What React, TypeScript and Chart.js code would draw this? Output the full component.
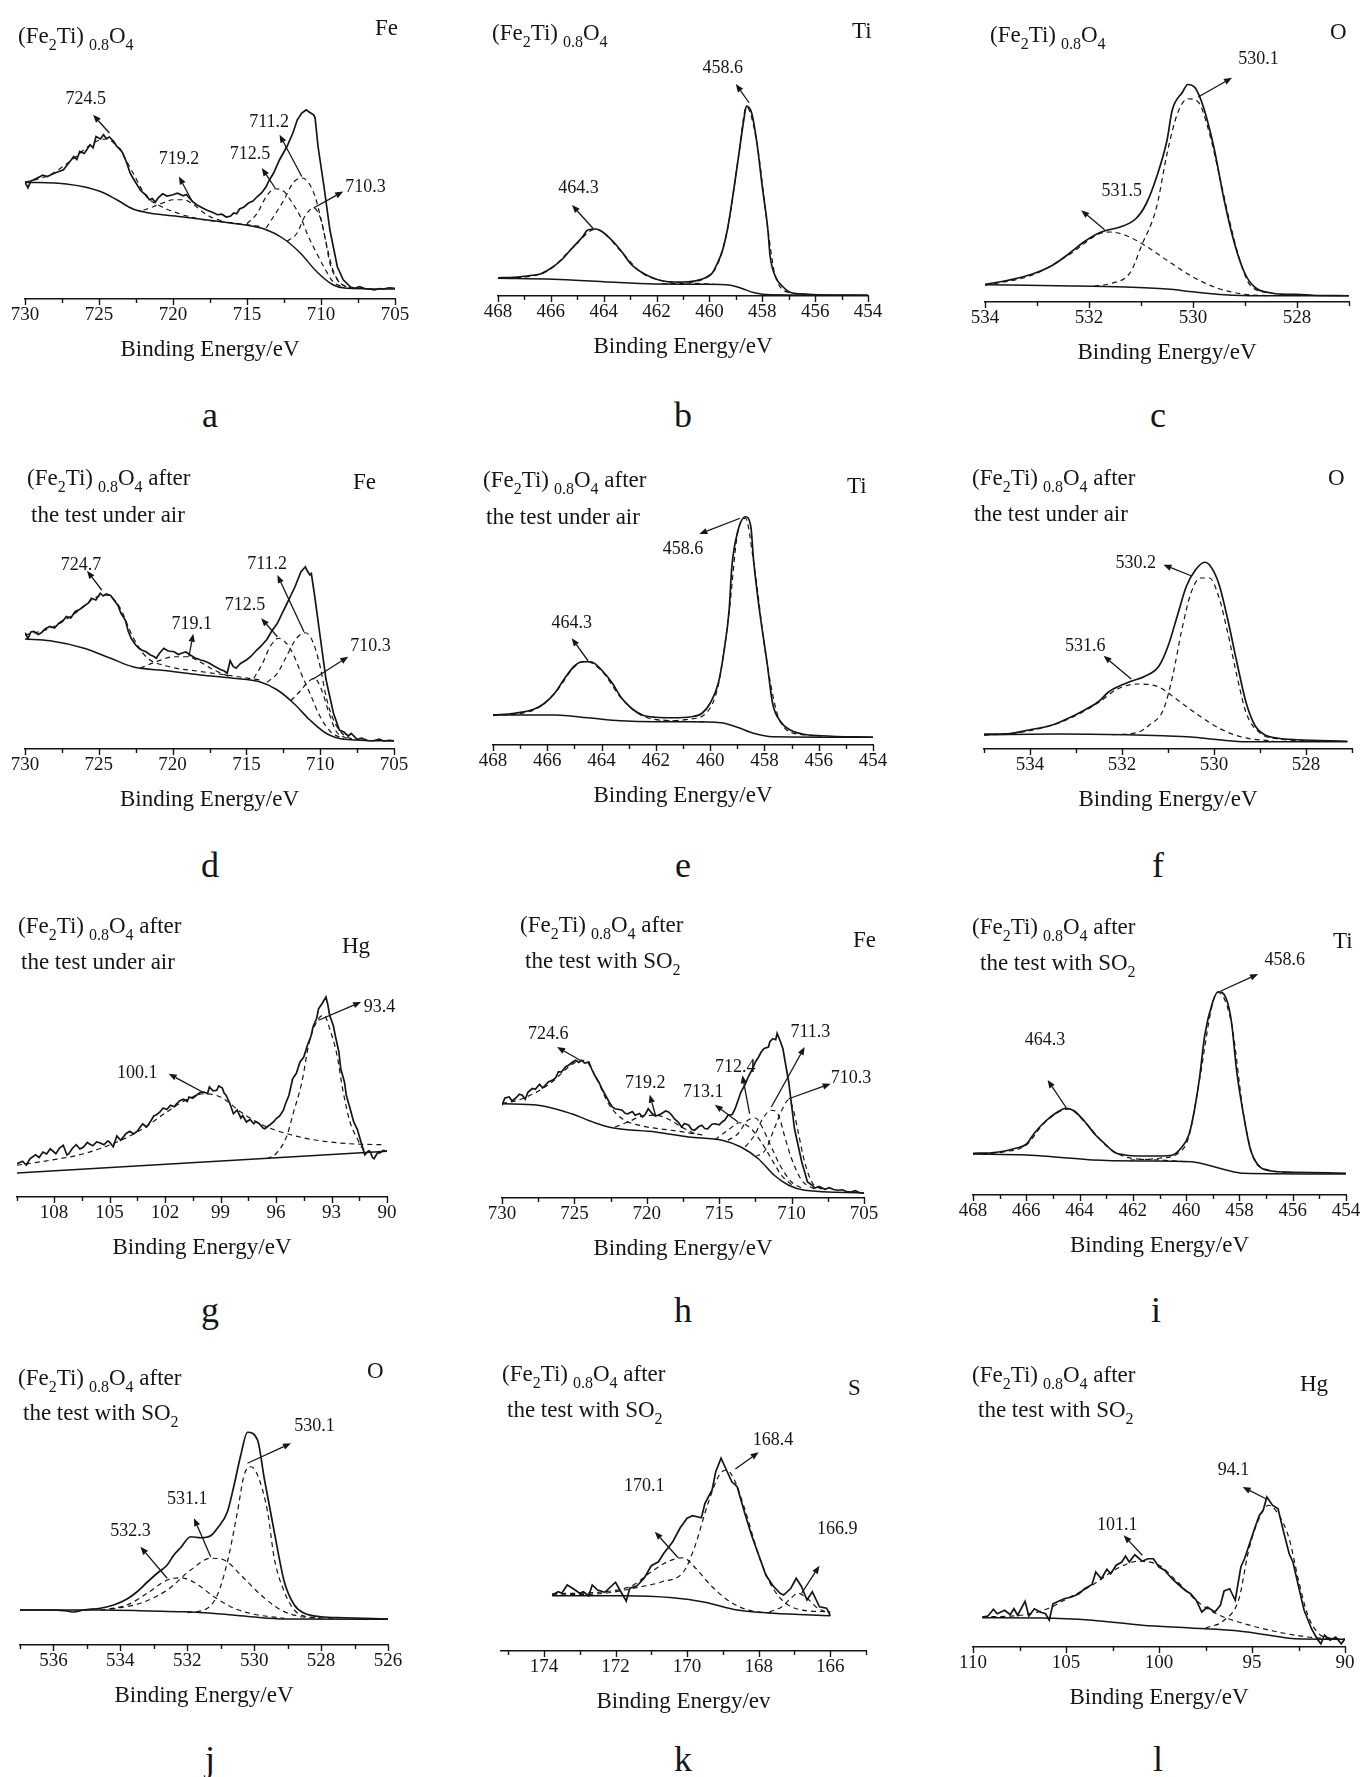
import React, { useEffect, useRef } from 'react';
import { Chart, registerables } from 'chart.js';

Chart.register(...registerables);

const FONT = '"Liberation Serif", "Times New Roman", Times, serif';
const INK = '#151515';

// ---------------- tick labels ----------------
const feMajor = [730, 725, 720, 715, 710, 705];
const feMinor = [727.5, 722.5, 717.5, 712.5, 707.5];
const tiMajor = [468, 466, 464, 462, 460, 458, 456, 454];
const tiMinor = [467, 465, 463, 461, 459, 457, 455];
const oMajor = [534, 532, 530, 528];
const cMinor = [533, 531, 529, 527];
const fMinor = [535, 533, 531, 529, 527];
const gMajor = [108, 105, 102, 99, 96, 93, 90];
const gMinor = [110, 106.5, 103.5, 100.5, 97.5, 94.5, 91.5];
const jMajor = [536, 534, 532, 530, 528, 526];
const jMinor = [537, 535, 533, 531, 529, 527];
const kMajor = [174, 172, 170, 168, 166];
const kMinor = [175, 173, 171, 169, 167, 165];
const lMajor = [110, 105, 100, 95, 90];
const lMinor = [107.5, 102.5, 97.5, 92.5];

// ---------------- panel a : Fe 2p, fresh ----------------
const aEnv = [[730,46.7],[729.8,44.5],[729.6,47.2],[729.4,47.7],[729.1,48.6],[728.8,49.5],[728.5,49],[728.1,50.1],[727.8,50.8],[727.4,51.7],[727.1,54],[726.7,57],[726.5,55.8],[726.3,59],[726,58.2],[725.6,61.7],[725.4,60.5],[725.2,65],[724.9,64],[724.7,65.7],[724.5,64.2],[724.3,64.8],[724,63],[723.8,61],[723.6,60.2],[723.4,58.4],[723.1,54],[722.9,50.4],[722.7,48.3],[722.5,46.4],[722.2,43.5],[722,42.4],[721.8,41.5],[721.6,39.7],[721.4,40.2],[721.2,38.7],[721,40.5],[720.7,42.1],[720.4,41.2],[720,41.7],[719.7,42.3],[719.3,41.3],[719.1,41.8],[718.9,40.4],[718.6,38.6],[718.4,37.7],[718,36.4],[717.7,35.5],[717.3,34.6],[717,33.7],[716.7,33.9],[716.4,32.8],[716.1,33.2],[715.9,34.4],[715.7,34.1],[715.5,36],[715.2,36.8],[714.9,38.4],[714.6,39.2],[714.3,41],[714,42.5],[713.7,45],[713.5,47.5],[713.2,50.4],[712.8,55.7],[712.3,61],[711.9,66.4],[711.6,71.7],[711.3,74.4],[711.1,75.2],[711,75.7],[710.8,74.8],[710.5,73.7],[710.4,72.5],[710.2,61],[709.8,45],[709.4,27.7],[708.9,13],[708.5,7.7],[708,4.8],[707.7,4.3],[707.4,4.9],[707,4.1],[706.7,4],[706.4,3.6],[706,4.2],[705.8,4],[705.4,4.5],[705,4.3]];
const aBg = [[730,46.7],[727.2,46],[724.9,43],[723.8,39.7],[722.7,36],[721.6,34.4],[719.3,32.8],[717,31.1],[714.8,29.3],[713.7,27.7],[712.6,24.4],[711.4,18.4],[710.3,11],[709.2,5.7],[708.3,4.3],[705,4]];
const aP7245 = [[730,46.7],[728.3,49.7],[726.7,56.3],[725.4,62.4],[724.5,64],[723.6,59.7],[722.7,50.4],[721.8,41],[720.9,37.3],[719.5,34],[718.2,32],[715.9,30.4],[714.1,29]];
const aP7192 = [[722,35.5],[721.3,37],[720.7,38.4],[720,39.7],[719.3,39.7],[718.6,37.7],[717.9,34.4],[717.3,32.4],[716.6,31.1]];
const aP7125 = [[715,30.1],[714.3,34.4],[713.7,41],[713.1,44.1],[712.5,43],[712,39],[711.4,33],[710.9,25.7],[710.3,18.4],[709.7,11.7],[709.2,7],[708.5,4.8]];
const aP7112 = [[713.7,28.4],[712.5,39.7],[711.9,46.4],[711.3,48.4],[710.9,47],[710.4,41],[710.1,34.4],[709.7,23.7],[709.4,14.4],[708.9,7.7],[708.3,4.8]];
const aP7103 = [[712.3,23],[711.6,26.5],[711.1,33],[710.5,36.4],[710,31.7],[709.6,21],[709.2,11.7],[708.7,6.4],[708,4.4]];
const aNotes = [
  { t: '724.5', x: 725.9, y: 80, tx: 724.3, ty: 66.4, hx: 725.4, hy: 73.7 },
  { t: '719.2', x: 719.6, y: 56, tx: 718.7, ty: 39, hx: 719.6, hy: 49 },
  { t: '712.5', x: 714.8, y: 58, tx: 713.1, ty: 44.4, hx: 714.0, hy: 52.4 },
  { t: '711.2', x: 713.5, y: 70.7, tx: 711.3, ty: 49, hx: 712.8, hy: 65.7 },
  { t: '710.3', x: 707.0, y: 44.8, tx: 710.5, ty: 36.4, hx: 708.5, hy: 43 },
];

// ---------------- panel b : Ti 2p, fresh ----------------
const bEnv = [[468,7.3],[467.4,7.5],[466.7,8.3],[466.4,8.8],[466,11.1],[465.6,14.4],[465.2,19.1],[464.8,23.7],[464.6,26.4],[464.3,26.8],[464.1,26],[463.7,22.4],[463.3,17.5],[463,13.1],[462.6,9.7],[462.2,7.5],[461.8,6.1],[461.3,5.6],[460.8,5.7],[460.3,6.7],[459.9,9.1],[459.7,13.1],[459.5,18.4],[459.3,27.7],[459.1,41],[458.9,55.7],[458.7,70.4],[458.6,76],[458.4,73.1],[458.2,61],[458,43.7],[457.8,27.7],[457.7,15.7],[457.5,7.7],[457.2,3.5],[456.9,1.3],[456.4,0.8],[455.8,0.5],[454,0.3]];
const bBg = [[468,7.1],[465.9,6.7],[464,5.7],[462.1,4.8],[460.2,4.7],[459.2,4.3],[458.8,3.1],[458.3,1.3],[457.7,0.5],[454,0.3]];
const bP4643 = [[468,7.1],[466.7,8],[466,10.9],[465.2,19],[464.3,26.7],[463.3,17.3],[462.6,9.5],[461.8,6.1],[460.8,5.2],[459.8,4.7]];
const bP4586 = [[461.8,4.9],[460.8,5.3],[460.1,7.7],[459.7,12.4],[459.3,27.5],[458.9,55.7],[458.6,75.7],[458.2,61],[457.8,27.7],[457.5,7.7],[456.9,1.3],[455.8,0.5]];
const bNotes = [
  { t: '464.3', x: 464.95, y: 43, tx: 464.4, ty: 27, hx: 465.2, hy: 36.4 },
  { t: '458.6', x: 459.5, y: 91, tx: 458.5, ty: 77.3, hx: 459.0, hy: 84.8 },
];

// ---------------- panel c : O 1s, fresh ----------------
const cEnv = [[534,7.1],[533.55,8.7],[533.1,11.1],[532.7,14.7],[532.4,19.1],[532.1,24],[531.8,27.7],[531.66,28.7],[531.4,30],[531.1,33.3],[530.9,39.3],[530.7,50],[530.5,64.7],[530.4,76.7],[530.2,84],[530.1,87],[529.96,85.7],[529.8,78],[529.6,62],[529.4,40.7],[529.2,23.3],[529,11.3],[528.8,5.7],[528.5,3.6],[528.2,3.1],[528,3.1],[527.7,2.7],[527,2.5]];
const cBg = [[534,6.9],[532.6,6.5],[531.3,6],[530.5,5.2],[530,4.1],[529.4,2.9],[528.7,2.5],[527,2.5]];
const cP5315 = [[534,6.7],[533.1,10.7],[532.4,18.7],[531.8,27.3],[531.6,28],[531.3,26.7],[530.9,22.3],[530.5,16.7],[530,10],[529.5,5.3],[529,3.1],[528.5,2.5]];
const cP5301 = [[531.9,6.4],[531.6,7.3],[531.2,12],[531,22],[530.7,38],[530.5,59.3],[530.3,75.3],[530.1,81.3],[529.9,80],[529.7,68.7],[529.5,51.3],[529.3,32.7],[529.1,16.7],[528.9,6.7],[528.5,3.6],[528.1,2.8]];
const cNotes = [
  { t: '531.5', x: 531.37, y: 44.4, tx: 531.7, ty: 28.9, hx: 532.15, hy: 36.7 },
  { t: '530.1', x: 528.74, y: 96.9, tx: 529.9, ty: 82, hx: 529.25, hy: 89.7 },
];

// ---------------- panel d : Fe 2p, after test under air ----------------
const dEnv = [[730,46.5],[729.8,44.2],[729.6,46.8],[729.4,47],[729.1,45.8],[728.9,46.5],[728.6,48.2],[728.3,49],[728,48.4],[727.7,50.3],[727.4,51.5],[727.2,53],[726.9,52.4],[726.6,55],[726.3,55.8],[726,57.2],[725.7,58.4],[725.5,60.3],[725.2,59.6],[724.9,62.3],[724.7,61.2],[724.5,62],[724.2,61.4],[723.9,59],[723.7,57.4],[723.5,54.3],[723.2,51.5],[723,47],[722.8,44.2],[722.5,41.6],[722.3,40.4],[722.1,39.6],[721.8,38.9],[721.5,37.6],[721.3,37.1],[721.1,36.3],[720.9,38.2],[720.6,40.3],[720.3,39.2],[719.9,38.9],[719.6,37.8],[719.4,38.3],[719.1,38.8],[718.8,37.6],[718.5,36.5],[718.1,35.6],[717.8,35.1],[717.5,34.3],[717.2,33.2],[716.8,31.9],[716.5,31.2],[716.3,30.3],[716.1,35.3],[715.9,33],[715.7,32.3],[715.4,34.2],[715,35.6],[714.7,37],[714.3,39.6],[714,41.2],[713.6,43.9],[713.3,47],[712.9,50.3],[712.6,54],[712.3,57.6],[712,61.3],[711.7,65],[711.5,68],[711.3,70.9],[711,72.9],[710.9,71.5],[710.7,69.6],[710.6,70.2],[710.4,62.3],[710,44.9],[709.6,27.6],[709.1,14.3],[708.7,7.6],[708.4,6.8],[708.1,5.2],[707.9,6.2],[707.5,3.9],[707.2,4.3],[706.8,3.4],[706.4,3.3],[706,3.9],[705.7,3.2],[705.3,3.5],[705,3.3]];
const dBg = [[730,44],[728.3,43.3],[726,40.3],[724.2,36.3],[722.7,32.9],[720.4,31.3],[718.1,29.6],[715.9,28.3],[714.1,26.9],[712.9,23.6],[711.8,18.3],[710.7,11.6],[709.6,6.3],[708.4,3.9],[705,3.2]];
const dP7247 = [[730,45.6],[728.3,48.3],[726.6,54.3],[725.1,61],[724.5,61.6],[723.6,56.9],[722.7,44.9],[721.8,36.9],[720.4,33.2],[718.1,31],[715.9,29.2],[714.1,27.6]];
const dP7191 = [[722.2,32.3],[721.1,34.9],[719.9,36.9],[719,36.9],[718.1,34.7],[717.2,31.6],[716.1,28.9]];
const dP7125 = [[714.5,28.3],[713.9,34.3],[713.4,40.9],[712.8,44.3],[712.3,42.3],[711.8,37.6],[711.3,30.3],[710.7,22.3],[710,12.9],[709.3,6.9],[708.4,4.1]];
const dP7112 = [[713.6,26.7],[712.9,30.3],[712.3,36.9],[711.6,44.3],[711,46.5],[710.5,42.9],[710,32.9],[709.6,20.9],[709.1,11.6],[708.4,5.6],[707.8,3.9]];
const dP7103 = [[712,19.3],[711.4,22.9],[710.8,26.9],[710.4,28.3],[709.9,23.6],[709.4,14.3],[708.9,6.9],[708.2,4.3]];
const dNotes = [
  { t: '724.7', x: 726.2, y: 73.6, tx: 724.8, ty: 63.6, hx: 725.8, hy: 71.3 },
  { t: '719.1', x: 718.7, y: 50, tx: 718.9, ty: 36.9, hx: 718.6, hy: 46.1 },
  { t: '712.5', x: 715.1, y: 57.6, tx: 712.9, ty: 44.9, hx: 714.0, hy: 52.3 },
  { t: '711.2', x: 713.6, y: 74, tx: 711.1, ty: 46.9, hx: 712.9, hy: 69.6 },
  { t: '710.3', x: 706.6, y: 40.9, tx: 710.5, ty: 27.9, hx: 708.1, hy: 36.9 },
];

// ---------------- panel e : Ti 2p, after test under air ----------------
const eEnv = [[468,12],[467.2,12.7],[466.5,14.3],[466.1,16.7],[465.7,21.1],[465.4,26],[465,31.6],[464.7,33.3],[464.4,33.3],[464,30],[463.6,24.7],[463.3,19.3],[462.9,14.7],[462.5,12],[462,11.1],[461.4,10.9],[460.7,11.3],[460.3,12.7],[460,16.7],[459.7,24.7],[459.5,36.7],[459.3,54],[459.2,71.3],[459,84.7],[458.7,91.3],[458.5,87.3],[458.4,74],[458.2,55.3],[457.9,32.7],[457.7,16.7],[457.4,9.3],[457.1,6.3],[456.6,4.4],[455.9,3.7],[454,3.1]];
const eBg = [[468,12],[465.7,12],[464.5,10.9],[463.3,9.7],[462,9.3],[460.8,9.3],[459.6,8.9],[459,7.1],[458.4,4.7],[457.7,3.3],[454,3.1]];
const eP4643 = [[468,11.7],[466.5,14],[465.7,21],[465,31.3],[464.6,33.5],[464,29.7],[463.3,19.1],[462.5,11.7],[461.4,9.7],[460.2,9.3]];
const eP4586 = [[462,9.5],[460.8,10.3],[460.1,13.3],[459.7,24],[459.3,53.3],[459,84],[458.7,90.7],[458.4,73.3],[457.9,32.4],[457.4,8.9],[456.6,4.1],[455.9,3.6]];
const eNotes = [
  { t: '464.3', x: 465.1, y: 48.7, tx: 464.5, ty: 33.7, hx: 465.1, hy: 42.7 },
  { t: '458.6', x: 461.0, y: 78.3, tx: 458.9, ty: 90.7, hx: 460.4, hy: 84.4 },
];

// ---------------- panel f : O 1s, after test under air ----------------
const fEnv = [[535,6],[534.5,6.1],[534,7.7],[533.5,9.7],[533.2,12],[532.8,15.7],[532.5,19.1],[532.3,22.7],[532.1,24.8],[531.8,27.1],[531.5,29.1],[531.2,33.1],[531,41.1],[530.8,53.1],[530.6,65.1],[530.4,71.7],[530.2,74.7],[530.1,73.7],[529.9,66.4],[529.7,51.7],[529.5,34.4],[529.3,18.4],[529.1,9.1],[528.9,5.7],[528.6,4.3],[528.2,3.7],[527.1,3.1]];
const fBg = [[535,5.7],[533.4,6],[531.9,5.7],[531.1,5.3],[530.5,4.8],[529.9,3.7],[529.3,2.9],[528.7,2.9],[527.1,2.9]];
const fP5316 = [[535,5.5],[534,7.3],[533.2,11.7],[532.5,18.7],[532.1,24],[531.65,26],[531.2,24.8],[530.8,19.7],[530.35,13.7],[529.9,8.4],[529.4,4.8],[528.7,3.1]];
const fP5302 = [[532.2,5.7],[531.65,6.7],[531.4,9.7],[531.1,15.7],[530.9,29.1],[530.7,47.7],[530.5,62.4],[530.3,68.4],[530.1,68.4],[529.9,61.1],[529.7,46.4],[529.5,29.1],[529.3,14.4],[529,6.4],[528.6,4],[528,3.3]];
const fNotes = [
  { t: '530.2', x: 531.7, y: 74.4, tx: 530.5, ty: 69.3, hx: 531.1, hy: 73.7 },
  { t: '531.6', x: 532.8, y: 41.1, tx: 531.8, ty: 28, hx: 532.4, hy: 37.3 },
];

// ---------------- panel g : Hg 4f, after test under air ----------------
const gEnv = [[110,13.3],[109.7,14.3],[109.5,12.8],[109.3,15.3],[109,16.9],[108.8,15.8],[108.6,18],[108.4,17.2],[108.2,19.3],[107.9,17.3],[107.7,19.6],[107.5,20.7],[107.3,16.8],[107.2,17.3],[107,19.5],[106.8,20.9],[106.6,19.2],[106.4,20],[106.2,21.8],[106.1,21.3],[105.9,20.5],[105.7,22],[105.5,21.6],[105.3,20.9],[105.1,22.4],[105,22],[104.8,20.1],[104.6,24.4],[104.4,22.7],[104.3,23.6],[104.1,25.4],[103.9,26.3],[103.7,25.2],[103.5,26.3],[103.3,28.4],[103.2,29.2],[103,28],[102.8,30],[102.6,32.5],[102.5,32.7],[102.3,33.8],[102.1,35.6],[101.9,35],[101.7,36.7],[101.5,36.1],[101.4,37.1],[101.2,38.5],[101,39.1],[100.8,38.2],[100.7,40],[100.5,39.5],[100.3,40.7],[100.1,41.8],[99.9,42],[99.7,41.4],[99.6,44],[99.4,42.5],[99.2,42.7],[99.1,44.4],[98.9,43.6],[98.8,41.5],[98.7,40.7],[98.5,37.5],[98.3,33.3],[98.1,34.8],[97.9,31.6],[97.8,32.6],[97.6,30],[97.4,31],[97.2,29.3],[97.1,30.2],[96.9,29.3],[96.7,27.6],[96.6,27.3],[96.4,28.5],[96.3,29],[96.1,30.3],[96,31.3],[95.8,32.4],[95.6,34.7],[95.5,37],[95.3,40.7],[95.1,47.3],[94.9,49.5],[94.7,54],[94.5,56],[94.3,60.7],[94.1,64.5],[94,68],[93.8,71.5],[93.7,75.3],[93.5,77.5],[93.3,80],[93.2,77],[93.1,72.7],[92.9,68.5],[92.8,64.7],[92.6,58],[92.5,51.3],[92.3,46],[92.2,40.7],[92,35.5],[91.8,30],[91.6,27],[91.5,24.4],[91.3,19.3],[91.2,16.9],[91,18.5],[90.9,18],[90.8,16],[90.7,15.3],[90.5,17.8],[90.4,17.6],[90.2,18.6],[90,18.3]];
const gBg = [[110,9.6],[90,18.3]];
const gP1001 = [[110,12.7],[108.2,14.7],[106.4,17.3],[104.6,22],[103.2,27.3],[101.9,34],[100.8,39.1],[99.9,41.3],[99,40],[97.9,34],[96.7,28.7],[95.2,24.9],[93.8,22.7],[92,21.3],[90.2,20.9]];
const gP934 = [[96.5,15.3],[96,17.3],[95.4,24.7],[95.1,32.7],[94.6,46],[94.2,62],[93.7,71.3],[93.4,72.7],[93.1,67.3],[92.7,56.7],[92.4,43.3],[92,30],[91.6,23.3],[91.3,19.3],[90.9,18.3]];
const gNotes = [
  { t: '100.1', x: 103.5, y: 49.3, tx: 99.9, ty: 41.7, hx: 101.8, hy: 49.3 },
  { t: '93.4', x: 90.4, y: 76, tx: 93.7, ty: 70.7, hx: 91.4, hy: 78 },
];

// ---------------- panel h : Fe 2p, after test with SO2 ----------------
const hEnv = [[730,37.1],[729.8,40],[729.5,40.4],[729.3,38.8],[729.1,39.7],[728.8,41.5],[728.6,41.1],[728.4,39.5],[728.2,42.4],[727.9,43.8],[727.7,43.5],[727.4,45.5],[727.2,44],[727,45.2],[726.8,46.4],[726.5,47.2],[726.3,48],[726.1,50.5],[725.9,50.4],[725.6,52.5],[725.4,53.1],[725.1,54.5],[724.9,55.1],[724.7,54.2],[724.5,55.1],[724.3,54],[724,54.4],[723.8,51.5],[723.6,49.1],[723.3,46.2],[723.1,43.7],[722.8,40.5],[722.6,38.4],[722.4,36.5],[722.2,35.7],[721.9,35.4],[721.7,35.1],[721.5,33.9],[721.3,33.7],[721,34.6],[720.8,33.1],[720.5,33.8],[720.3,32.4],[720.1,33.5],[719.9,35.7],[719.6,33.6],[719.4,32.8],[719.2,33.2],[719,33.7],[718.7,34.8],[718.5,34.4],[718.3,33.3],[718.1,31.7],[717.8,30.2],[717.6,28.4],[717.4,29.8],[717.1,29.1],[716.9,27.4],[716.7,27.1],[716.4,28.6],[716.2,29.1],[716,27.8],[715.8,27.7],[715.5,29.5],[715.3,29.7],[715,29.3],[714.8,30.4],[714.6,31.2],[714.4,33.1],[714.1,33.4],[713.9,35.7],[713.7,39],[713.5,42.4],[713.2,45.5],[713,48.4],[712.7,51.6],[712.5,54.4],[712.3,56.2],[712.1,58.4],[711.9,59.8],[711.6,60.4],[711.5,62.5],[711.3,63.7],[711.1,63.3],[711,65.9],[710.8,63],[710.6,59.7],[710.4,53],[710.2,46.4],[709.8,27.7],[709.3,14.4],[708.9,6.4],[708.6,5.2],[708.4,4],[708.1,4.6],[707.7,3.5],[707.4,4.1],[707.1,3.4],[706.8,3.1],[706.5,3.3],[706.2,2.6],[705.9,2.4],[705.6,2.9],[705.3,2.1],[705,2]];
const hBg = [[730,37.7],[727.5,37.1],[725.2,33.7],[723.6,30.1],[722.4,28.1],[719.4,26.4],[717.1,24.4],[714.8,23.1],[713.5,20.4],[712.3,15.7],[711.2,9.1],[710.2,5.1],[709.1,3.1],[705,2]];
const hP7246 = [[730,37.7],[728.6,39.7],[726.8,45.3],[724.9,54.4],[724.3,55.1],[723.6,49.3],[722.6,37.3],[721.7,31.7],[720.3,28.8],[718.3,27.1],[716,25.1]];
const hP7192 = [[722.2,28.4],[721.3,30.4],[720.3,32.8],[719.4,33.1],[718.5,31.5],[717.6,28.4],[716.7,25.7]];
const hP7131 = [[715.3,23.3],[714.4,27.1],[713.6,30.1],[712.8,27.7],[712.1,22.4],[711.4,15.7],[710.7,9.1],[709.8,4.4]];
const hP7124 = [[714.4,23.1],[713.7,25.7],[713.1,30.7],[712.5,32],[712.1,29.1],[711.5,21.7],[710.8,13.1],[710,6.4],[709.1,3.5]];
const hP7113 = [[713.2,20.4],[712.5,25.7],[712,31.7],[711.4,35.1],[710.9,33.1],[710.5,25.1],[710,15.7],[709.3,7.1],[708.4,3.5]];
const hP7103 = [[712.5,16.5],[711.8,19.3],[711.2,27.7],[710.6,36],[710.2,39.3],[709.9,35.7],[709.5,25.1],[709.1,14.4],[708.6,6.4],[707.9,3.5]];
const hNotes = [
  { t: '724.6', x: 726.8, y: 65.3, tx: 724.6, ty: 55.1, hx: 726.2, hy: 60.4 },
  { t: '719.2', x: 720.1, y: 45.7, tx: 719.4, ty: 33.1, hx: 719.8, hy: 41.3 },
  { t: '713.1', x: 716.1, y: 42.4, tx: 713.7, ty: 30.4, hx: 715.3, hy: 37.3 },
  { t: '712.4', x: 713.9, y: 52.4, tx: 712.9, ty: 33.7, hx: 713.4, hy: 49.1 },
  { t: '711.3', x: 708.7, y: 66.1, tx: 711.4, ty: 36.4, hx: 709.1, hy: 60.4 },
  { t: '710.3', x: 705.9, y: 48, tx: 710.2, ty: 39.7, hx: 707.3, hy: 45.7 },
];

// ---------------- panel i : Ti 2p, after test with SO2 ----------------
const iEnv = [[468,16.7],[467.3,16.9],[466.8,17.6],[466.4,18.7],[466,20.3],[465.7,24.7],[465.3,29.3],[464.9,32.7],[464.5,34.7],[464.2,33.6],[463.8,29.3],[463.4,24],[463,20],[462.7,17.1],[462.3,16],[461.7,15.6],[461,15.6],[460.5,16],[460.2,18.7],[459.9,24],[459.7,33.3],[459.5,46.7],[459.3,64],[459,77.3],[458.8,81.3],[458.5,78.7],[458.3,69.3],[458.1,49.3],[457.8,29.3],[457.6,18.7],[457.3,12],[456.8,9.6],[456,9.1],[454,8.7]];
const iBg = [[468,16.4],[466,16],[464.8,15.1],[463.5,14],[461.7,13.6],[459.8,13.3],[459.2,12],[458.5,10],[457.9,8.7],[454,8.4]];
const iP4643 = [[468,16.4],[466.8,17.3],[466,20],[465.3,29.1],[464.4,34.4],[463.8,29.1],[463,19.7],[462.3,15.3],[461,14],[460,13.3]];
const iP4586 = [[462.1,14],[461,14.7],[460.3,16.7],[459.9,23.3],[459.5,46],[459,77],[458.8,81],[458.3,68.7],[457.8,29.1],[457.3,11.7],[456,8.9]];
const iNotes = [
  { t: '464.3', x: 465.3, y: 62, tx: 464.5, ty: 34.9, hx: 465.2, hy: 46 },
  { t: '458.6', x: 456.3, y: 94, tx: 458.7, ty: 81.6, hx: 457.3, hy: 88.4 },
];

// ---------------- panel j : O 1s, after test with SO2 ----------------
const jEnv = [[537,14],[536.1,14],[535.6,13.6],[535.4,13.2],[535.1,14],[534.6,14.7],[534.2,16],[533.8,18.4],[533.5,21.3],[533.2,25.1],[532.9,28.7],[532.6,32],[532.4,36],[532.2,38.9],[531.9,43.3],[531.6,42.9],[531.3,43.7],[531.1,46.7],[530.8,53.3],[530.6,64],[530.4,76],[530.2,85.1],[529.9,82],[529.7,66.7],[529.4,45.3],[529.1,25.3],[528.8,16],[528.5,12.7],[528,11.3],[527.3,10.9],[526,10.4]];
const jBg = [[537,14],[534.6,14],[533.1,13.6],[532.1,13.3],[531.1,12.5],[530.1,11.3],[529.1,10.4],[526,10.3]];
const jP5323 = [[534.6,14],[533.8,16],[533.2,20.7],[532.6,26],[532.2,26.9],[531.8,25.1],[531.2,19.3],[530.6,14.7],[530,12.3],[529.1,10.7]];
const jP5311 = [[534.3,14.3],[533.4,16.7],[532.6,22],[531.9,30],[531.3,34.7],[530.9,34],[530.4,28],[529.8,20],[529.2,14],[528.6,11.3],[528,10.7]];
const jP5301 = [[532,12.9],[531.4,14.7],[531.1,20],[530.8,33.3],[530.5,53.3],[530.3,68],[530.1,71.3],[529.9,68],[529.6,53.3],[529.4,34.7],[529.1,21.3],[528.8,14],[528.4,11.3],[527.6,10.7]];
const jNotes = [
  { t: '532.3', x: 533.7, y: 45.3, tx: 532.6, ty: 26.7, hx: 533.4, hy: 39.3 },
  { t: '531.1', x: 532.0, y: 58.4, tx: 531.3, ty: 35.3, hx: 531.8, hy: 50.7 },
  { t: '530.1', x: 528.2, y: 87.3, tx: 530.2, ty: 72.7, hx: 528.9, hy: 80.7 },
];

// ---------------- panel k : S 2p, after test with SO2 ----------------
const kEnv = [[173.77,22.4],[173.6,23.7],[173.5,23.1],[173.35,26.4],[173.2,25.1],[173,23.1],[172.9,23.7],[172.75,22.1],[172.65,26.4],[172.5,24.4],[172.3,23.5],[172,27.5],[171.85,23.7],[171.7,20],[171.6,25.1],[171.4,26.1],[171.2,29.1],[171,34.1],[170.8,35.7],[170.65,39.1],[170.4,43.7],[170.2,49.1],[170,53.1],[169.85,54.1],[169.6,53.3],[169.5,59.1],[169.3,64.4],[169.2,71.7],[169.05,77.1],[168.9,72.4],[168.75,67.7],[168.6,65.7],[168.4,55.7],[168.2,46.4],[168,38.4],[167.8,30.4],[167.6,26.1],[167.4,23.1],[167.3,22.4],[167.1,25.1],[166.95,29.1],[166.8,25.7],[166.65,20.4],[166.5,23.7],[166.3,17.7],[166.1,17.1],[166,14.1]];
const kBg = [[173.77,22.1],[171.8,22.1],[170.4,21.3],[169.5,19.5],[168.6,16.4],[167.6,15.1],[166,14.1]];
const kP1701 = [[173.77,22.9],[172.3,23.7],[171.5,26.4],[171,31.7],[170.5,36],[170.1,37.3],[169.8,33.7],[169.3,25.7],[168.8,19.7],[168.3,16.4],[167.5,15.1]];
const kP1684 = [[173.77,22.4],[172.3,23.1],[171.3,25.7],[170.7,27.7],[170.1,31.7],[169.8,41.1],[169.4,59.7],[169.1,70.4],[168.9,72.4],[168.7,69.1],[168.4,57.3],[168,38.4],[167.7,27.7],[167.35,20.4],[166.8,16.4],[166,15.7]];
const kP1669 = [[167.7,15.6],[167.35,17.7],[167.1,21.1],[166.9,23.1],[166.65,21.1],[166.35,17.1],[166,15.1]];
const kNotes = [
  { t: '170.1', x: 171.2, y: 65.7, tx: 170.25, ty: 37.3, hx: 170.9, hy: 47.7 },
  { t: '168.4', x: 167.6, y: 84.4, tx: 168.65, ty: 72.8, hx: 168.0, hy: 79.5 },
  { t: '166.9', x: 165.8, y: 48.8, tx: 166.8, ty: 23.1, hx: 166.3, hy: 34.1 },
];

// ---------------- panel l : Hg 4f, after test with SO2 ----------------
const lEnv = [[109.5,12],[109.2,12.4],[108.9,15.1],[108.7,13.3],[108.3,14.7],[108,12.9],[107.8,15.3],[107.6,12.7],[107.2,18.3],[107,12.4],[106.7,15.3],[106.4,14],[106.1,13.3],[105.9,10.7],[105.7,17.3],[105.4,18.3],[105.1,19.3],[104.7,20],[104.3,21.3],[104,23.3],[103.6,25],[103.4,30],[103.1,27.3],[102.8,31.1],[102.6,29.3],[102.3,32.7],[102,34],[101.8,36.4],[101.6,34],[101.3,36.9],[100.9,34.3],[100.6,35.3],[100.3,35.3],[100,32],[99.7,30.7],[99.3,27.3],[99,25.3],[98.6,22.7],[98.3,21.3],[98,18.7],[97.7,14],[97.4,16],[97,14],[96.7,16.7],[96.5,22.4],[96.2,23.3],[95.9,18.7],[95.6,32],[95.4,35.3],[95.1,42],[94.8,48.7],[94.6,52.7],[94.4,54.7],[94.2,60],[93.9,56.7],[93.6,55.3],[93.3,46],[93,37.3],[92.8,34],[92.5,24.3],[92.2,14.7],[91.8,7.3],[91.5,3.3],[91.3,1.3],[91.1,4.7],[90.8,2.7],[90.5,4],[90.2,1.3],[90,3.3]];
const lBg = [[109.5,11.7],[106.3,11.6],[103.6,10.7],[100.9,8.7],[98.3,7.6],[95.6,6.3],[93.8,4.4],[92.7,3.3],[90,3.1]];
const lP1011 = [[109.5,12],[107.2,12.9],[105.9,15.6],[105.1,18.7],[103.6,24.7],[102.2,31.6],[101.1,34.3],[100,32.7],[99,26],[97.9,18],[96.8,12.9],[95.4,9.3],[93.8,6.3],[92,4],[90,3.1]];
const lP941 = [[97.5,7.6],[96.5,10.7],[95.7,19.3],[95.2,38],[94.7,50],[94.1,56.7],[93.6,53.3],[93,43.3],[92.5,26.7],[92,12.7],[91.4,5.3],[90.7,3.3]];
const lNotes = [
  { t: '101.1', x: 102.25, y: 48.7, tx: 100.9, ty: 36.7, hx: 101.9, hy: 44.7 },
  { t: '94.1', x: 96.0, y: 70.7, tx: 94.2, ty: 59.1, hx: 95.5, hy: 64 },
];

// ---------------- layout (page geometry, not data) ----------------
const SIDE = 30;
const ABOVE = 290;
const BELOW = 70;
const PLOT_H = 250;
const SCALE_H = 65;

const EV = 'Binding Energy/eV';

const PANELS = [
  { id: 'a', x0: 25, x1: 395, axisY: 299, min: 705, max: 730, major: feMajor, minor: feMinor, env: aEnv, noisy: true, bg: aBg, comps: [aP7245, aP7192, aP7125, aP7112, aP7103], notes: aNotes, xTitle: EV,
    t1: [18, 43, false], t2: null, el: ['Fe', 375, 35], letter: ['a', 210, 427] },
  { id: 'b', x0: 498, x1: 868, axisY: 296, min: 454, max: 468, major: tiMajor, minor: tiMinor, env: bEnv, noisy: false, bg: bBg, comps: [bP4643, bP4586], notes: bNotes, xTitle: EV,
    t1: [492, 40, false], t2: null, el: ['Ti', 852, 38], letter: ['b', 683, 427] },
  { id: 'c', x0: 985, x1: 1349, axisY: 302, min: 527, max: 534, major: oMajor, minor: cMinor, env: cEnv, noisy: false, bg: cBg, comps: [cP5315, cP5301], notes: cNotes, xTitle: EV,
    t1: [990, 42, false], t2: null, el: ['O', 1330, 39], letter: ['c', 1158, 427] },
  { id: 'd', x0: 25, x1: 394, axisY: 749, min: 705, max: 730, major: feMajor, minor: feMinor, env: dEnv, noisy: true, bg: dBg, comps: [dP7247, dP7191, dP7125, dP7112, dP7103], notes: dNotes, xTitle: EV,
    t1: [27, 485, true], t2: [31, 522, 'air'], el: ['Fe', 353, 489], letter: ['d', 210, 877] },
  { id: 'e', x0: 493, x1: 873, axisY: 745, min: 454, max: 468, major: tiMajor, minor: tiMinor, env: eEnv, noisy: false, bg: eBg, comps: [eP4643, eP4586], notes: eNotes, xTitle: EV,
    t1: [483, 487, true], t2: [486, 524, 'air'], el: ['Ti', 847, 493], letter: ['e', 683, 877] },
  { id: 'f', x0: 984, x1: 1352, axisY: 749, min: 527, max: 535, major: oMajor, minor: fMinor, env: fEnv, noisy: false, bg: fBg, comps: [fP5316, fP5302], notes: fNotes, xTitle: EV,
    t1: [972, 485, true], t2: [974, 521, 'air'], el: ['O', 1328, 485], letter: ['f', 1158, 877] },
  { id: 'g', x0: 17, x1: 387, axisY: 1197, min: 90, max: 110, major: gMajor, minor: gMinor, env: gEnv, noisy: true, bg: gBg, comps: [gP1001, gP934], notes: gNotes, xTitle: EV,
    t1: [18, 933, true], t2: [21, 969, 'air'], el: ['Hg', 342, 953], letter: ['g', 210, 1322] },
  { id: 'h', x0: 502, x1: 864, axisY: 1198, min: 705, max: 730, major: feMajor, minor: feMinor, env: hEnv, noisy: true, bg: hBg, comps: [hP7246, hP7192, hP7131, hP7124, hP7113, hP7103], notes: hNotes, xTitle: EV,
    t1: [520, 932, true], t2: [525, 968, 'so2'], el: ['Fe', 853, 947], letter: ['h', 683, 1322] },
  { id: 'i', x0: 973, x1: 1346, axisY: 1195, min: 454, max: 468, major: tiMajor, minor: tiMinor, env: iEnv, noisy: false, bg: iBg, comps: [iP4643, iP4586], notes: iNotes, xTitle: EV,
    t1: [972, 934, true], t2: [980, 970, 'so2'], el: ['Ti', 1333, 948], letter: ['i', 1156, 1322] },
  { id: 'j', x0: 20, x1: 388, axisY: 1645, min: 526, max: 537, major: jMajor, minor: jMinor, env: jEnv, noisy: false, bg: jBg, comps: [jP5323, jP5311, jP5301], notes: jNotes, xTitle: EV,
    t1: [18, 1385, true], t2: [23, 1420, 'so2'], el: ['O', 367, 1378], letter: ['j', 210, 1771] },
  { id: 'k', x0: 501, x1: 866, axisY: 1651, min: 165, max: 175.2, major: kMajor, minor: kMinor, env: kEnv, noisy: true, bg: kBg, comps: [kP1701, kP1684, kP1669], notes: kNotes, xTitle: 'Binding Energy/ev',
    t1: [502, 1381, true], t2: [507, 1417, 'so2'], el: ['S', 848, 1395], letter: ['k', 683, 1771] },
  { id: 'l', x0: 973, x1: 1345, axisY: 1647, min: 90, max: 110, major: lMajor, minor: lMinor, env: lEnv, noisy: true, bg: lBg, comps: [lP1011, lP941], notes: lNotes, xTitle: EV,
    t1: [972, 1382, true], t2: [978, 1417, 'so2'], el: ['Hg', 1300, 1391], letter: ['l', 1158, 1771] },
];

const toXY = (arr) => arr.map(([x, y]) => ({ x, y }));

function makeOverlay(p) {
  return {
    id: 'xpsOverlay',
    afterDraw(chart) {
      const ctx = chart.ctx;
      const xs = chart.scales.x;
      const ys = chart.scales.y;
      const by = chart.chartArea.bottom;
      ctx.save();
      ctx.strokeStyle = INK;
      ctx.fillStyle = INK;
      ctx.lineWidth = 1.4;
      ctx.beginPath();
      p.major.forEach((v) => {
        const px = Math.round(xs.getPixelForValue(v)) + 0.5;
        ctx.moveTo(px, by);
        ctx.lineTo(px, by + 6);
      });
      p.minor.forEach((v) => {
        const px = Math.round(xs.getPixelForValue(v)) + 0.5;
        ctx.moveTo(px, by);
        ctx.lineTo(px, by + 4);
      });
      ctx.stroke();

      ctx.font = `18px ${FONT}`;
      ctx.textAlign = 'center';
      ctx.textBaseline = 'middle';
      p.notes.forEach((n) => {
        const x1 = xs.getPixelForValue(n.tx);
        const y1 = ys.getPixelForValue(n.ty);
        const x2 = xs.getPixelForValue(n.hx);
        const y2 = ys.getPixelForValue(n.hy);
        const dx = x2 - x1;
        const dy = y2 - y1;
        const len = Math.hypot(dx, dy) || 1;
        const ux = dx / len;
        const uy = dy / len;
        const L = 8;
        const W = 3.2;
        const bx = x2 - ux * L;
        const byy = y2 - uy * L;
        ctx.lineWidth = 1.3;
        ctx.beginPath();
        ctx.moveTo(x1, y1);
        ctx.lineTo(bx, byy);
        ctx.stroke();
        ctx.beginPath();
        ctx.moveTo(x2, y2);
        ctx.lineTo(bx - uy * W, byy + ux * W);
        ctx.lineTo(bx + uy * W, byy - ux * W);
        ctx.closePath();
        ctx.fill();
        ctx.fillText(n.t, xs.getPixelForValue(n.x), ys.getPixelForValue(n.y));
      });
      ctx.restore();
    },
  };
}

function buildConfig(p) {
  const datasets = [
    {
      data: toXY(p.env),
      borderColor: INK,
      borderWidth: 1.7,
      pointRadius: 0,
      tension: 0,
      cubicInterpolationMode: p.noisy ? 'default' : 'monotone',
      fill: false,
    },
    {
      data: toXY(p.bg),
      borderColor: INK,
      borderWidth: 1.5,
      pointRadius: 0,
      cubicInterpolationMode: 'monotone',
      fill: false,
    },
    ...p.comps.map((c) => ({
      data: toXY(c),
      borderColor: INK,
      borderWidth: 1.2,
      borderDash: [5, 4],
      pointRadius: 0,
      cubicInterpolationMode: 'monotone',
      fill: false,
    })),
  ];
  return {
    type: 'line',
    data: { datasets },
    plugins: [makeOverlay(p)],
    options: {
      responsive: false,
      animation: false,
      events: [],
      layout: { padding: { left: SIDE, right: SIDE, top: ABOVE - PLOT_H, bottom: BELOW - SCALE_H } },
      plugins: { legend: { display: false }, tooltip: { enabled: false }, title: { display: false } },
      scales: {
        x: {
          type: 'linear',
          position: 'bottom',
          min: p.min,
          max: p.max,
          reverse: true,
          grid: { display: false, drawTicks: false },
          border: { display: true, color: INK, width: 1.6 },
          ticks: {
            color: INK,
            font: { family: FONT, size: 19 },
            padding: 5,
            autoSkip: false,
            maxRotation: 0,
            minRotation: 0,
            callback: (v) => String(v),
          },
          afterBuildTicks: (s) => {
            s.ticks = p.major.map((v) => ({ value: v }));
          },
          afterFit: (s) => {
            s.height = SCALE_H;
          },
          title: {
            display: true,
            text: p.xTitle,
            color: INK,
            font: { family: FONT, size: 23, lineHeight: 1.2 },
            padding: 0,
          },
        },
        y: { display: false, min: 0, max: 100 },
      },
    },
  };
}

const Sub = ({ children }) => (
  <span style={{ fontSize: 16, position: 'relative', top: 7 }}>{children}</span>
);

function TextAt({ left, base, size, children, width, align }) {
  return (
    <div
      style={{
        position: 'absolute',
        left,
        top: base - 0.8375 * size,
        fontSize: size,
        lineHeight: `${size}px`,
        whiteSpace: 'nowrap',
        width,
        textAlign: align || 'left',
      }}
    >
      {children}
    </div>
  );
}

function Panel({ p }) {
  const ref = useRef(null);
  useEffect(() => {
    const chart = new Chart(ref.current, buildConfig(p));
    return () => chart.destroy();
  }, [p]);
  const cw = p.x1 - p.x0 + 2 * SIDE;
  const ch = ABOVE + BELOW;
  return (
    <>
      <canvas
        ref={ref}
        width={cw}
        height={ch}
        style={{ position: 'absolute', left: p.x0 - SIDE, top: p.axisY - ABOVE, width: cw, height: ch }}
      />
      <TextAt left={p.t1[0]} base={p.t1[1]} size={23}>
        (Fe<Sub>2</Sub>Ti)<span style={{ marginLeft: 5 }} />
        <Sub>0.8</Sub>O<Sub>4</Sub>
        {p.t1[2] ? ' after' : ''}
      </TextAt>
      {p.t2 && (
        <TextAt left={p.t2[0]} base={p.t2[1]} size={23}>
          {p.t2[2] === 'air' ? 'the test under air' : (
            <>the test with SO<Sub>2</Sub></>
          )}
        </TextAt>
      )}
      <TextAt left={p.el[1]} base={p.el[2]} size={23}>{p.el[0]}</TextAt>
      <TextAt left={p.letter[1] - 40} base={p.letter[2]} size={36} width={80} align="center">
        {p.letter[0]}
      </TextAt>
    </>
  );
}

export default function App() {
  return (
    <div
      style={{
        position: 'absolute',
        left: 0,
        top: 0,
        width: 1363,
        height: 1777,
        overflow: 'hidden',
        background: '#fff',
        color: INK,
        fontFamily: FONT,
      }}
    >
      {PANELS.map((p) => (
        <Panel key={p.id} p={p} />
      ))}
    </div>
  );
}
